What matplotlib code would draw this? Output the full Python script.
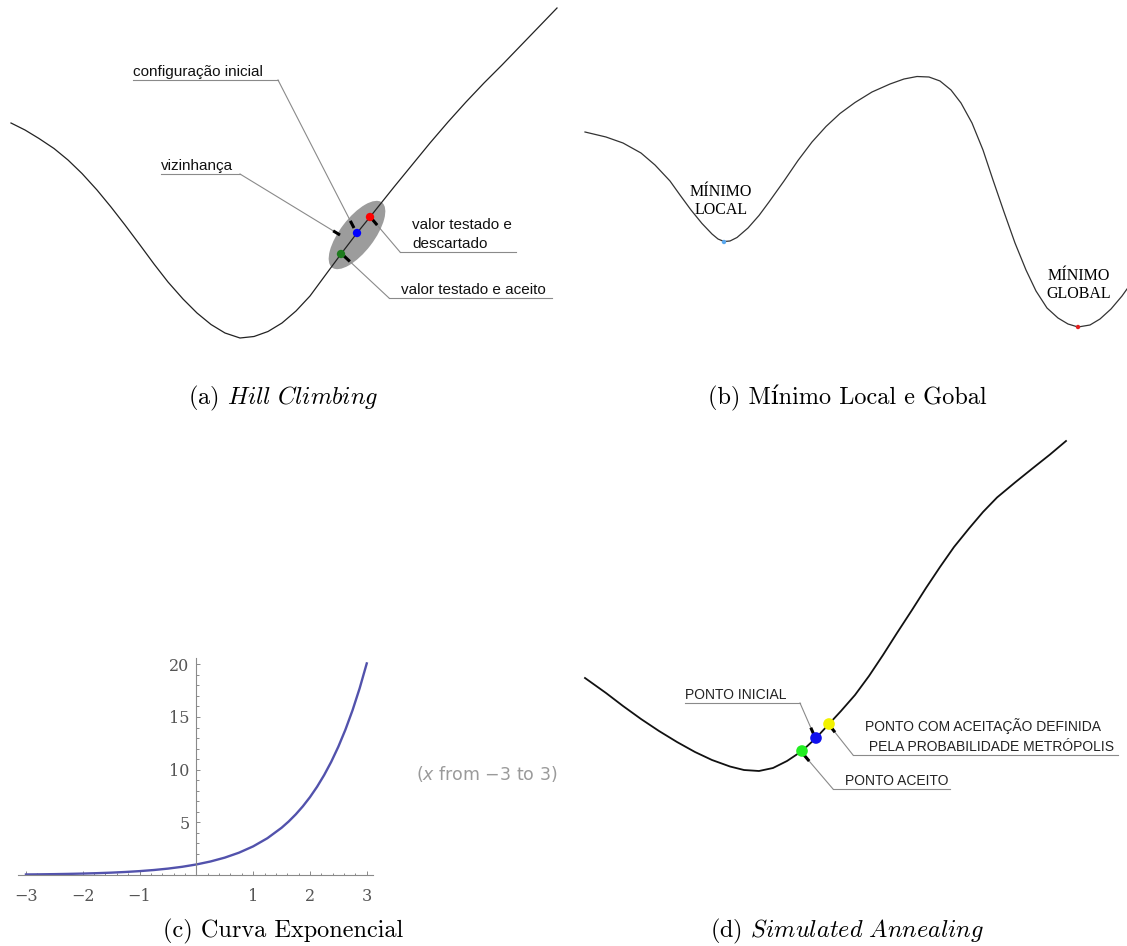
import matplotlib.pyplot as plt
from matplotlib.patches import Ellipse

W, H = 1127, 946  # figure size in pixels

# (a) Hill Climbing - curve (pixel units, y down)
hill_x = [11, 25, 39, 54, 68, 82, 97, 111, 125, 140, 154, 168, 183, 197, 211, 225, 240, 254, 268, 282, 296,
          310, 324, 341, 357, 370, 394, 412, 430, 448, 466, 484, 502, 516, 530, 544, 557]
hill_y = [123, 130, 138.5, 148.5, 160, 173.5, 190, 207, 225, 245, 264, 282, 299, 313, 324.5, 333, 338, 336.5,
          331.5, 323, 311, 296, 277, 254, 233, 217, 187, 165, 143, 122, 102, 83, 65, 50.5, 36, 21.5, 8]
hill_dot_x = [341, 357, 370]
hill_dot_y = [254, 233, 217]
hill_dot_colors = ["#1e7b1e", "#0000ff", "#ff0000"]
hill_labels = ["configuração inicial", "vizinhança", "valor testado e\ndescartado", "valor testado e aceito"]
hill_text_x = [133, 161, 412, 401]
hill_line_x0 = [133, 161, 400, 389]   # underline start
hill_line_x1 = [278, 240, 516, 552]   # underline end
hill_line_y = [80, 174, 252, 298]
hill_elbow_x = [278, 240, 400, 389]   # where the leader leaves the underline
hill_tip_x = [354, 340, 372, 344]
hill_tip_y = [228, 235, 219, 256]

# (b) Minimo local e global
land_x = [585, 606, 623, 641, 655, 670, 680, 691, 702, 712, 718, 724, 730, 737, 748, 759, 769, 784, 798, 812,
          826, 840, 855, 872, 890, 904, 917, 929, 940, 951, 961, 972, 983, 993, 1004, 1015, 1026, 1036, 1047,
          1058, 1068, 1078, 1090, 1100, 1111, 1122, 1127]
land_y = [132, 137, 143, 153, 165, 181, 195, 210, 223.5, 234, 239, 241.5, 241, 237.5, 228, 215.5, 202, 181,
          160.5, 142, 126.5, 113.5, 102.5, 92, 84, 79, 76.5, 77, 81, 90, 103, 123, 150, 180, 212, 243, 270,
          291, 308, 318, 324, 327, 325, 319, 309, 296, 289]
min_x = [724, 1078]
min_y = [242, 327]
min_colors = ["#5aa8ee", "#e02020"]
min_labels = ["MÍNIMO\nLOCAL", "MÍNIMO\nGLOBAL"]
min_label_x = [721, 1079]
min_label_y = [201, 285]

# (c) Curva exponencial, e^x for x from -3 to 3
exp_x = [-3, -2.75, -2.5, -2.25, -2, -1.75, -1.5, -1.25, -1, -0.75, -0.5, -0.25, 0, 0.25, 0.5, 0.75,
         1, 1.25, 1.5, 1.625, 1.75, 1.875, 2, 2.125, 2.25, 2.375, 2.5, 2.625, 2.75, 2.875, 3]
exp_y = [0.0498, 0.0639, 0.0821, 0.1054, 0.1353, 0.1738, 0.2231, 0.2865, 0.3679, 0.4724, 0.6065, 0.7788, 1.0, 1.284, 1.6487, 2.117,
         2.718, 3.490, 4.4817, 5.078, 5.755, 6.521, 7.389, 8.373, 9.488, 10.750, 12.182, 13.804, 15.643, 17.725, 20.086]
exp_xticks = [-3, -2, -1, 1, 2, 3]
exp_yticks = [5, 10, 15, 20]

# (d) Simulated Annealing
sa_x = [585, 606, 623, 641, 659, 677, 695, 712, 730, 744, 759, 773, 787, 802, 816, 829, 841, 855, 869, 883,
        897, 912, 926, 940, 954, 969, 983, 997, 1015, 1033, 1050, 1066]
sa_y = [678, 693, 706, 719, 731, 742, 752, 760, 766.5, 770, 771, 768, 761, 751, 738, 724, 711, 695, 676, 655,
        633, 610, 588, 567, 547, 528.5, 512, 497.5, 482.5, 468, 454.5, 441]
sa_dot_x = [802, 816, 829]
sa_dot_y = [751, 738, 724]
sa_dot_colors = ["#22ee22", "#1010ee", "#f2f200"]
sa_labels = ["PONTO INICIAL", "PONTO COM ACEITAÇÃO DEFINIDA\n PELA PROBABILIDADE METRÓPOLIS", "PONTO ACEITO"]
sa_text_x = [685, 865, 845]
sa_line_x0 = [685, 853, 833]
sa_line_x1 = [800, 1118, 950]
sa_line_y = [703, 755, 789]
sa_elbow_x = [800, 853, 833]
sa_tip_x = [814, 830, 804]
sa_tip_y = [735, 726, 755]

captions = [r"(a) $\mathit{Hill\ Climbing}$", "(b) Mínimo Local e Gobal",
            "(c) Curva Exponencial", r"(d) $\mathit{Simulated\ Annealing}$"]
caption_x = [283, 847, 283, 847]
caption_y = [398, 398, 931, 931]


def pixel_axes(fig, x0, y0, x1, y1):
    ax = fig.add_axes([x0 / W, 1 - y1 / H, (x1 - x0) / W, (y1 - y0) / H])
    ax.set_xlim(x0, x1)
    ax.set_ylim(y1, y0)
    ax.axis("off")
    return ax


def leaders(ax, text_x, x0, x1, ly, ex, tx, ty, labels, **kw):
    for i in range(len(labels)):
        ax.plot([x0[i], x1[i]], [ly[i], ly[i]], color="#8a8a8a", lw=0.8)
        ax.plot([ex[i], tx[i]], [ly[i], ty[i]], color="#8a8a8a", lw=0.8)
        # short black arrow piece at the end of the leader
        dx, dy = tx[i] - ex[i], ty[i] - ly[i]
        n = (dx ** 2 + dy ** 2) ** 0.5
        ax.plot([tx[i] - 8 * dx / n, tx[i]], [ty[i] - 8 * dy / n, ty[i]], color="black", lw=2.2,
                solid_capstyle="butt")
        ax.text(text_x[i], ly[i] - 1, labels[i], ha="left", va="bottom", **kw)


fig = plt.figure(figsize=(W / 100, H / 100), dpi=100)

# ---- (a)
ax = pixel_axes(fig, 0, 0, 565, 370)
ax.add_patch(Ellipse((357, 235), 82, 34, angle=-52.6, color="#9c9c9c", lw=0))
ax.plot(hill_x, hill_y, color="#222222", lw=0.9)
leaders(ax, hill_text_x, hill_line_x0, hill_line_x1, hill_line_y, hill_elbow_x, hill_tip_x, hill_tip_y,
        hill_labels, family="Liberation Sans", fontsize=11, color="#111111", linespacing=1.45)
ax.scatter(hill_dot_x, hill_dot_y, s=36, c=hill_dot_colors, zorder=5, lw=0)

# ---- (b)
ax = pixel_axes(fig, 565, 0, 1127, 370)
ax.plot(land_x, land_y, color="#333333", lw=0.9)
ax.scatter(min_x, min_y, s=10, c=min_colors, zorder=5, lw=0)
for i in range(len(min_labels)):
    ax.text(min_label_x[i], min_label_y[i], min_labels[i], ha="center", va="center",
            family="Liberation Serif", fontsize=11.5, linespacing=1.2)

# ---- (c)
ax = fig.add_axes([18 / W, (H - 875) / H, (373 - 18) / W, (875 - 658) / H])
ax.set_xlim(-3.14, 3.11)
ax.set_ylim(0, 20.6)
ax.plot(exp_x, exp_y, color="#5252ac", lw=1.7)
ax.patch.set_visible(False)
for s in ["top", "right"]:
    ax.spines[s].set_visible(False)
ax.spines["left"].set_position(("data", 0))
ax.spines["bottom"].set_position(("data", 0))
for s in ["left", "bottom"]:
    ax.spines[s].set_color("#8a8a8a")
    ax.spines[s].set_linewidth(0.8)
ax.set_xticks(exp_xticks)
ax.set_xticklabels(["\u2212" + str(-v) if v < 0 else str(v) for v in exp_xticks])
ax.set_xticks([v / 5 for v in range(-15, 16) if v % 5 != 0], minor=True)
ax.set_yticks(exp_yticks)
ax.set_yticks([v for v in range(1, 21) if v % 5 != 0], minor=True)
ax.tick_params(which="both", direction="in", color="#8a8a8a", width=0.7)
ax.tick_params(which="major", length=3.2)
ax.tick_params(which="minor", length=1.8)
ax.tick_params(axis="x", pad=9)
ax.tick_params(axis="y", pad=5)
for t in ax.get_xticklabels() + ax.get_yticklabels():
    t.set_family("DejaVu Serif")
    t.set_fontsize(11.5)
    t.set_color("#555555")
fig.text(557 / W, 1 - 774 / H, r"($\mathit{x}$ from $-$3 to 3)", ha="right", va="center",
         family="DejaVu Sans", math_fontfamily="dejavusans", fontsize=12.5, color="#9a9a9a")

# ---- (d)
ax = pixel_axes(fig, 565, 420, 1127, 810)
ax.plot(sa_x, sa_y, color="#111111", lw=1.3)
leaders(ax, sa_text_x, sa_line_x0, sa_line_x1, sa_line_y, sa_elbow_x, sa_tip_x, sa_tip_y,
        sa_labels, family="Liberation Sans", fontsize=10, color="#222222", linespacing=1.5)
ax.scatter(sa_dot_x, sa_dot_y, s=70, c=sa_dot_colors, zorder=5, lw=0)

# captions
for i in range(len(captions)):
    fig.text(caption_x[i] / W, 1 - caption_y[i] / H, captions[i], ha="center", va="center",
             family=["cmr10", "DejaVu Serif"], math_fontfamily="cm", fontsize=17.5)

fig.savefig("out.png", dpi=100)
